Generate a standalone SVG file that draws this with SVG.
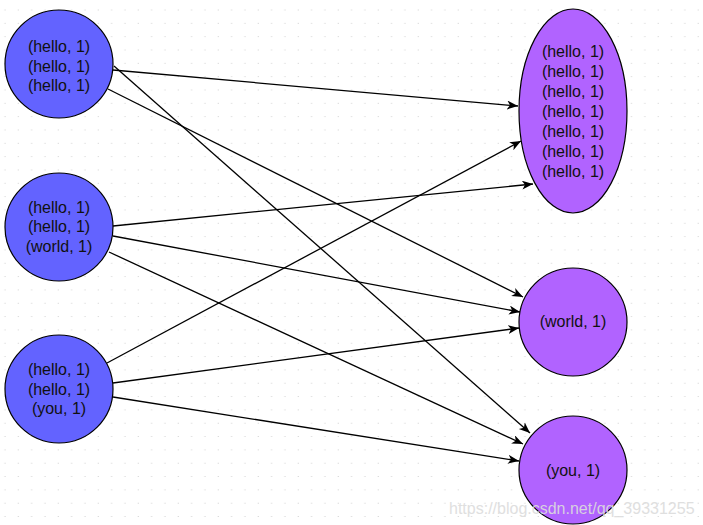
<svg xmlns="http://www.w3.org/2000/svg" width="703" height="525" viewBox="0 0 703 525">
<style>
.src{fill:#6363FF;stroke:#000;stroke-width:1.2}
.dst{fill:#B163FF;stroke:#000;stroke-width:1.2}
text{font-family:"Liberation Sans",Arial,Helvetica,sans-serif;font-size:16px;fill:#111;text-anchor:middle}
.edge{stroke:#000;stroke-width:1.3;fill:none;marker-end:url(#arr)}
.wm{fill:#dcdcdc;text-anchor:start;opacity:0.9}
</style>
<defs>
<pattern id="grid" patternUnits="userSpaceOnUse" x="0" y="0" width="13.33" height="13.33">
<rect x="4.5" y="9.5" width="1" height="1" fill="#cfcfcf"/>
</pattern>
<marker id="arr" markerUnits="userSpaceOnUse" markerWidth="12" markerHeight="10" refX="11" refY="4.5" orient="auto">
<path d="M0,0 L11,4.5 L0,9 L3,4.5 z" fill="#000"/>
</marker>
</defs>
<rect width="703" height="525" fill="#fff"/>
<rect width="703" height="525" fill="url(#grid)"/>
<g id="edges">
<line class="edge" x1="113" y1="70" x2="518" y2="106"/>
<line class="edge" x1="114" y1="66" x2="530" y2="433"/>
<line class="edge" x1="108" y1="89" x2="523" y2="297"/>
<line class="edge" x1="113" y1="226" x2="533" y2="184"/>
<line class="edge" x1="113" y1="236" x2="520" y2="312"/>
<line class="edge" x1="109" y1="252" x2="523" y2="444"/>
<line class="edge" x1="107" y1="363" x2="521" y2="141"/>
<line class="edge" x1="113" y1="383" x2="519" y2="328"/>
<line class="edge" x1="113" y1="397" x2="519" y2="461"/>
</g>
<g id="n1">
<circle class="src" cx="59" cy="64" r="54"/>
<text x="59" y="52">(hello, 1)</text>
<text x="59" y="72">(hello, 1)</text>
<text x="59" y="91">(hello, 1)</text>
</g>
<g id="n2">
<circle class="src" cx="59" cy="227" r="54"/>
<text x="59" y="213">(hello, 1)</text>
<text x="59" y="232">(hello, 1)</text>
<text x="59" y="252">(world, 1)</text>
</g>
<g id="n3">
<circle class="src" cx="59" cy="389" r="54"/>
<text x="59" y="375">(hello, 1)</text>
<text x="59" y="395">(hello, 1)</text>
<text x="59" y="414">(you, 1)</text>
</g>
<g id="hello">
<ellipse class="dst" cx="573" cy="111" rx="54" ry="102"/>
<text x="573" y="57">(hello, 1)</text>
<text x="573" y="77">(hello, 1)</text>
<text x="573" y="97">(hello, 1)</text>
<text x="573" y="117">(hello, 1)</text>
<text x="573" y="137">(hello, 1)</text>
<text x="573" y="157">(hello, 1)</text>
<text x="573" y="177">(hello, 1)</text>
</g>
<g id="world">
<circle class="dst" cx="573" cy="322" r="54"/>
<text x="573" y="327">(world, 1)</text>
</g>
<g id="you">
<circle class="dst" cx="573" cy="470" r="54"/>
<text x="573" y="476">(you, 1)</text>
</g>
<text class="wm" x="449" y="514">https://blog.csdn.net/qq_39331255</text>
</svg>
